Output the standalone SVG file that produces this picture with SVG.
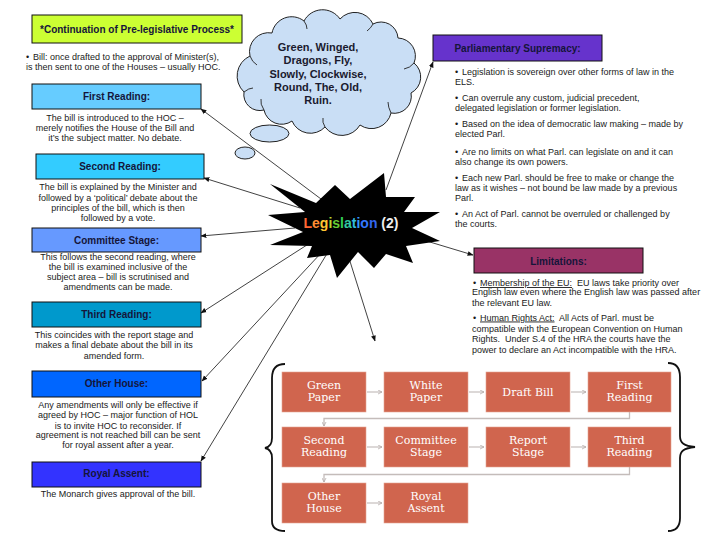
<svg xmlns="http://www.w3.org/2000/svg" width="728" height="546" viewBox="0 0 728 546">
<defs>
<style>
.t{font-family:"Liberation Sans",Arial,sans-serif;font-size:9px;fill:#1a1a1a}
.m{text-anchor:middle}
.h{font-family:"Liberation Sans",Arial,sans-serif;font-size:10px;font-weight:bold;fill:#15153a;text-anchor:middle}
.bx{stroke:#111;stroke-width:1}
.fb{fill:#d0654e;stroke:#e3a493;stroke-width:0.6}
.ft{font-family:"DejaVu Serif",Georgia,serif;font-size:11px;fill:#ffffff;text-anchor:middle}
.ln{stroke:#111;stroke-width:0.8;fill:none;marker-end:url(#ah)}
.ga{stroke:#b9b1af;stroke-width:1;fill:none;marker-end:url(#gh)}
.gr{stroke:#c4bcba;stroke-width:1.3;fill:none;marker-end:url(#gh)}
.br{stroke:#111;stroke-width:1.8;fill:none}
.cl{fill:none;stroke:#222;stroke-width:0.9}
.u{text-decoration:underline}
</style>
<marker id="ah" viewBox="0 0 10 10" refX="9" refY="5" markerWidth="6" markerHeight="6" markerUnits="userSpaceOnUse" orient="auto"><path d="M0,1 L10,5 L0,9 Z" fill="#111"/></marker>
<marker id="gh" viewBox="0 0 10 10" refX="9" refY="5" markerWidth="5" markerHeight="5" markerUnits="userSpaceOnUse" orient="auto"><path d="M1,1 L9,5 L1,9" fill="none" stroke="#b0a8a6" stroke-width="1.5"/></marker>
</defs>
<rect width="728" height="546" fill="#ffffff"/>

<g id="connectors">
<line class="ln" x1="325" y1="202" x2="201" y2="109"/>
<line class="ln" x1="300" y1="208" x2="204" y2="178"/>
<line class="ln" x1="295" y1="228" x2="201" y2="236"/>
<line class="ln" x1="310" y1="243" x2="201" y2="313"/>
<line class="ln" x1="322" y1="252" x2="202" y2="381"/>
<line class="ln" x1="328" y1="252" x2="201" y2="461"/>
<line class="ln" x1="386" y1="190" x2="433" y2="62"/>
<line class="ln" x1="400" y1="233" x2="473" y2="255"/>
<line class="ln" x1="348" y1="255" x2="375" y2="341"/>
</g>

<g id="star">
<polygon fill="#000" points="270,184 316,203 335,185 350,199 384,173 386,197 415,197 404,212 440,212 412,228 440,241 406,246 413,263 386,254 374,268 358,252 337,278 330,255 307,258 312,246 270,245 303,232 268,215 305,212"/>
<text x="351" y="228" text-anchor="middle" font-family="Liberation Sans, Arial, sans-serif" font-size="14" font-weight="bold"><tspan fill="#ff6633">L</tspan><tspan fill="#ff8c33">e</tspan><tspan fill="#ffc633">g</tspan><tspan fill="#b5d633">i</tspan><tspan fill="#66cc33">s</tspan><tspan fill="#33cc55">l</tspan><tspan fill="#33c9a0">a</tspan><tspan fill="#33bbdd">t</tspan><tspan fill="#3399ff">i</tspan><tspan fill="#3377ff">o</tspan><tspan fill="#3366ee">n</tspan><tspan fill="#eeeeee"> (2)</tspan></text>
</g>

<g id="cloud">
<path d="M244,92 A22,22 0 0 1 250,56 A19,19 0 0 1 272,33 A20,20 0 0 1 304,21 A21,21 0 0 1 340,19 A20,20 0 0 1 373,24 A17,17 0 0 1 398,38 A18,18 0 0 1 414,63 A18,18 0 0 1 411,93 A17,17 0 0 1 391,113 A20,20 0 0 1 360,125 A21,21 0 0 1 325,127 A20,20 0 0 1 292,121 A18,18 0 0 1 264,110 A16,16 0 0 1 244,92 Z" fill="#c9def5" stroke="#222" stroke-width="1"/>
<path class="cl" d="M250,56 q2,6 7,9"/>
<path class="cl" d="M264,110 q-4,-6 -3,-11"/>
<path class="cl" d="M304,21 q3,4 3,8"/>
<path class="cl" d="M373,24 q-2,4 -6,7"/>
<path class="cl" d="M414,63 q-4,5 -10,6"/>
<path class="cl" d="M391,113 q-3,-6 -3,-11"/>
<path class="cl" d="M325,127 q-3,-5 -2,-9"/>
<path class="cl" d="M244,92 q5,-4 9,-4"/>
<ellipse cx="269.5" cy="133.5" rx="19.5" ry="8.5" fill="#c9def5" stroke="#222" stroke-width="1"/>
<ellipse cx="245" cy="153" rx="10" ry="6" fill="#c9def5" stroke="#222" stroke-width="1"/>
<g font-family="Liberation Sans, Arial, sans-serif" font-size="11" font-weight="bold" fill="#1a1a2e" text-anchor="middle">
<text x="318" y="51">Green, Winged,</text>
<text x="318" y="64">Dragons, Fly,</text>
<text x="318" y="77.5">Slowly, Clockwise,</text>
<text x="318" y="91">Round, The, Old,</text>
<text x="318" y="104">Ruin.</text>
</g>
</g>

<g id="continuation">
<rect class="bx" x="32" y="15" width="210" height="28" fill="#ccff33"/>
<text class="h" x="137" y="33">*Continuation of Pre-legislative Process*</text>
<text class="t" x="26" y="60">•<tspan x="33">Bill: once drafted to the approval of Minister(s),</tspan></text>
<text class="t" x="26" y="69.5">is then sent to one of the Houses – usually HOC.</text>
</g>

<g id="first-reading">
<rect class="bx" x="32" y="84" width="169" height="25" fill="#66ccff"/>
<text class="h" x="116.5" y="100">First Reading:</text>
<text class="t m" x="115" y="121">The bill is introduced to the HOC –</text>
<text class="t m" x="115" y="131">merely notifies the House of the Bill and</text>
<text class="t m" x="115" y="141">it’s the subject matter.  No debate.</text>
</g>

<g id="second-reading">
<rect class="bx" x="36" y="154" width="168" height="25" fill="#33ccff"/>
<text class="h" x="120" y="169.5">Second Reading:</text>
<text class="t m" x="118" y="190">The bill is explained by the Minister and</text>
<text class="t m" x="118" y="200.5">followed by a ‘political’ debate about the</text>
<text class="t m" x="118" y="210.5">principles of the bill, which is then</text>
<text class="t m" x="118" y="221">followed by a vote.</text>
</g>

<g id="committee-stage">
<rect class="bx" x="32" y="228" width="169" height="24" fill="#6699ff"/>
<text class="h" x="116.5" y="244">Committee Stage:</text>
<text class="t m" x="118" y="260">This follows the second reading, where</text>
<text class="t m" x="118" y="270">the bill is examined inclusive of the</text>
<text class="t m" x="118" y="280">subject area – bill is scrutinised and</text>
<text class="t m" x="118" y="290">amendments can be made.</text>
</g>

<g id="third-reading">
<rect class="bx" x="32" y="302" width="169" height="25" fill="#0099cc"/>
<text class="h" x="116.5" y="318">Third Reading:</text>
<text class="t m" x="114" y="337.5">This coincides with the report stage and</text>
<text class="t m" x="114" y="348">makes a final debate about the bill in its</text>
<text class="t m" x="114" y="358.5">amended form.</text>
</g>

<g id="other-house">
<rect class="bx" x="32" y="371" width="169" height="26" fill="#0066ff"/>
<text class="h" x="116.5" y="387">Other House:</text>
<text class="t m" x="118" y="407.5">Any amendments will only be effective if</text>
<text class="t m" x="118" y="418">agreed by HOC – major function of HOL</text>
<text class="t m" x="118" y="428.5">is to invite HOC to reconsider.  If</text>
<text class="t m" x="118" y="437.5">agreement is not reached bill can be sent</text>
<text class="t m" x="118" y="448">for royal assent after a year.</text>
</g>

<g id="royal-assent">
<rect class="bx" x="32" y="462" width="169" height="25" fill="#3333ff"/>
<text class="h" x="116.5" y="477">Royal Assent:</text>
<text class="t m" x="118" y="497">The Monarch gives approval of the bill.</text>
</g>

<g id="parliamentary-supremacy">
<rect class="bx" x="433" y="35" width="169" height="26" fill="#6633cc"/>
<text class="h" x="517.5" y="52">Parliamentary Supremacy:</text>
<text class="t" x="455" y="75">•<tspan x="462">Legislation is sovereign over other forms of law in the</tspan></text>
<text class="t" x="455" y="85">ELS.</text>
<text class="t" x="455" y="101">•<tspan x="462">Can overrule any custom, judicial precedent,</tspan></text>
<text class="t" x="455" y="111">delegated legislation or former legislation.</text>
<text class="t" x="455" y="127">•<tspan x="462">Based on the idea of democratic law making – made by</tspan></text>
<text class="t" x="455" y="137">elected Parl.</text>
<text class="t" x="455" y="155">•<tspan x="462">Are no limits on what Parl. can legislate on and it can</tspan></text>
<text class="t" x="455" y="165">also change its own powers.</text>
<text class="t" x="455" y="180.5">•<tspan x="462">Each new Parl. should be free to make or change the</tspan></text>
<text class="t" x="455" y="190.5">law as it wishes – not bound be law made by a previous</text>
<text class="t" x="455" y="200.5">Parl.</text>
<text class="t" x="455" y="216.5">•<tspan x="462">An Act of Parl. cannot be overruled or challenged by</tspan></text>
<text class="t" x="455" y="227">the courts.</text>
</g>

<g id="limitations">
<rect class="bx" x="474" y="248" width="169" height="25" fill="#993366"/>
<text class="h" x="558.5" y="264.5">Limitations:</text>
<text class="t" x="473" y="286" style="white-space:pre">•<tspan x="480" class="u">Membership of the EU:</tspan>  EU laws take priority over</text>
<text class="t" x="472" y="294.5">English law even where the English law was passed after</text>
<text class="t" x="472" y="305.5">the relevant EU law.</text>
<text class="t" x="473" y="320.5" style="white-space:pre">•<tspan x="480" class="u">Human Rights Act:</tspan>  All Acts of Parl. must be</text>
<text class="t" x="472" y="331.5">compatible with the European Convention on Human</text>
<text class="t" x="472" y="342" style="white-space:pre">Rights.  Under S.4 of the HRA the courts have the</text>
<text class="t" x="472" y="353">power to declare an Act incompatible with the HRA.</text>
</g>

<g id="flow-connectors">
<line class="ga" x1="367" y1="392" x2="382" y2="392"/>
<line class="ga" x1="469" y1="392" x2="484" y2="392"/>
<line class="ga" x1="571" y1="392" x2="586" y2="392"/>
<line class="ga" x1="367" y1="447" x2="382" y2="447"/>
<line class="ga" x1="469" y1="447" x2="484" y2="447"/>
<line class="ga" x1="571" y1="447" x2="586" y2="447"/>
<line class="ga" x1="367" y1="503" x2="382" y2="503"/>
<path class="gr" d="M629.5,412 V418.5 H324 V426"/>
<path class="gr" d="M629.5,467 V474.5 H324 V482"/>
</g>

<g id="fc-green-paper"><rect class="fb" x="282" y="372" width="84" height="40"/><text class="ft" x="324" y="389">Green</text><text class="ft" x="324" y="401">Paper</text></g>
<g id="fc-white-paper"><rect class="fb" x="384" y="372" width="84" height="40"/><text class="ft" x="426" y="389">White</text><text class="ft" x="426" y="401">Paper</text></g>
<g id="fc-draft-bill"><rect class="fb" x="486" y="372" width="84" height="40"/><text class="ft" x="528" y="396">Draft Bill</text></g>
<g id="fc-first-reading"><rect class="fb" x="588" y="372" width="83" height="40"/><text class="ft" x="629.5" y="389">First</text><text class="ft" x="629.5" y="401">Reading</text></g>
<g id="fc-second-reading"><rect class="fb" x="282" y="427" width="84" height="40"/><text class="ft" x="324" y="444">Second</text><text class="ft" x="324" y="456">Reading</text></g>
<g id="fc-committee-stage"><rect class="fb" x="384" y="427" width="84" height="40"/><text class="ft" x="426" y="444">Committee</text><text class="ft" x="426" y="456">Stage</text></g>
<g id="fc-report-stage"><rect class="fb" x="486" y="427" width="84" height="40"/><text class="ft" x="528" y="444">Report</text><text class="ft" x="528" y="456">Stage</text></g>
<g id="fc-third-reading"><rect class="fb" x="588" y="427" width="83" height="40"/><text class="ft" x="629.5" y="444">Third</text><text class="ft" x="629.5" y="456">Reading</text></g>
<g id="fc-other-house"><rect class="fb" x="282" y="483" width="84" height="40"/><text class="ft" x="324" y="500">Other</text><text class="ft" x="324" y="512">House</text></g>
<g id="fc-royal-assent"><rect class="fb" x="384" y="483" width="84" height="40"/><text class="ft" x="426" y="500">Royal</text><text class="ft" x="426" y="512">Assent</text></g>

<g id="braces">
<path class="br" d="M285,364 C276,364 272,369 272,378 L272,438 C272,444 270,447 265,448 C270,449 272,452 272,458 L272,521 C272,527 276,531 285,531"/>
<path class="br" d="M668,363 C676,363 680,368 680,377 L680,436 C680,443 684,446 695,447 C684,448 680,451 680,458 L680,518 C680,527 676,531 668,531"/>
</g>
</svg>
